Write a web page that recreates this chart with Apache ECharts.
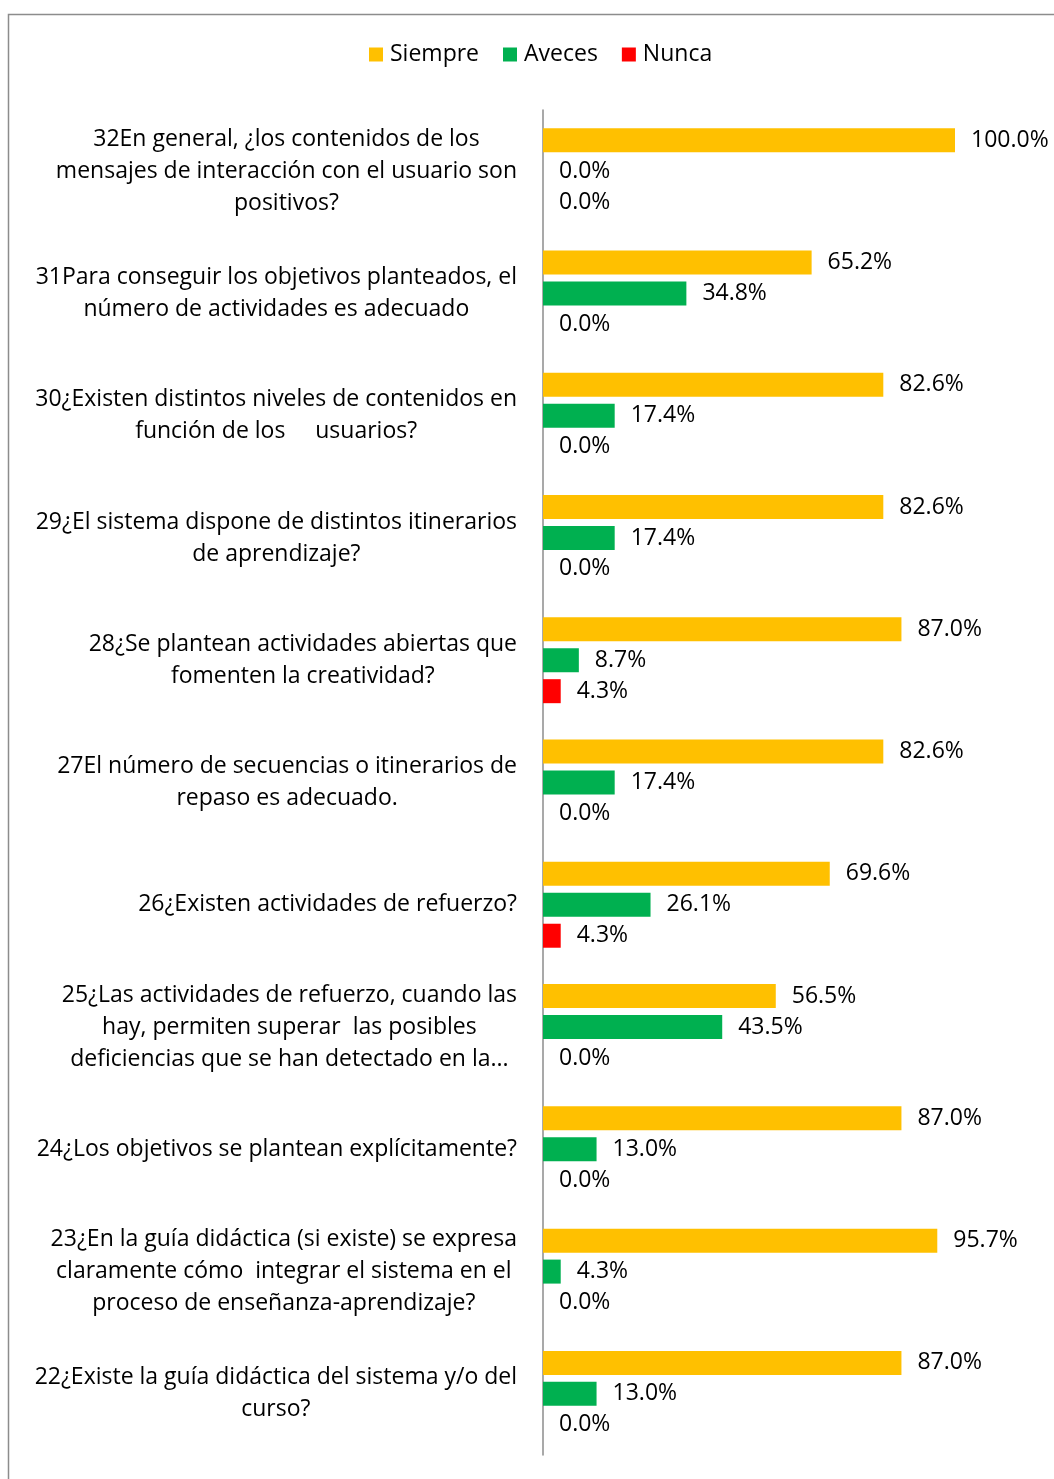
<!DOCTYPE html>
<html>
<head>
<meta charset="utf-8">
<script src="https://cdn.jsdelivr.net/npm/echarts@6/dist/echarts.min.js"></script>
<style>
html,body{margin:0;padding:0;background:#fff;}
#c{width:1054px;height:1479px;}
</style>
</head>
<body>
<div id="c"></div>
<script>
var categories = [
  "32En general, ¿los contenidos de los\nmensajes de interacción con el usuario son\npositivos?",
  "31Para conseguir los objetivos planteados, el\nnúmero de actividades es adecuado",
  "30¿Existen distintos niveles de contenidos en\nfunción de los     usuarios?",
  "29¿El sistema dispone de distintos itinerarios\nde aprendizaje?",
  "28¿Se plantean actividades abiertas que\nfomenten la creatividad?",
  "27El número de secuencias o itinerarios de\nrepaso es adecuado.",
  "26¿Existen actividades de refuerzo?",
  "25¿Las actividades de refuerzo, cuando las\nhay, permiten superar  las posibles\ndeficiencias que se han detectado en la...",
  "24¿Los objetivos se plantean explícitamente?",
  "23¿En la guía didáctica (si existe) se expresa\nclaramente cómo  integrar el sistema en el\nproceso de enseñanza-aprendizaje?",
  "22¿Existe la guía didáctica del sistema y/o del\ncurso?"
];
var siempre = [100.0, 65.2, 82.6, 82.6, 87.0, 82.6, 69.6, 56.5, 87.0, 95.7, 87.0];
var aveces  = [0.0, 34.8, 17.4, 17.4, 8.7, 17.4, 26.1, 43.5, 13.0, 4.3, 13.0];
var nunca   = [0.0, 0.0, 0.0, 0.0, 4.3, 0.0, 4.3, 0.0, 0.0, 0.0, 0.0];
var seriesNames = ["Siempre", "Aveces", "Nunca"];
var colors = ["#FFC000", "#00B050", "#FF0000"];

var FONT = "Open Sans";
var FS = 23;
var chart = echarts.init(document.getElementById('c'), null, {renderer: 'canvas'});
function mkSeries(name, data, color) {
  return {
    name: name, type: 'bar', data: data,
    barWidth: 24, barGap: '29%',
    itemStyle: {color: color},
    label: {
      show: true, position: 'right', distance: 16,
      fontFamily: FONT, fontSize: FS, color: '#000',
      formatter: function (p) { return p.value.toFixed(1) + '%'; }
    }
  };
}
chart.setOption({
  animation: false,
  textStyle: {fontFamily: FONT},
  graphic: [{
    type: 'rect', shape: {x: 8.5, y: 14.5, width: 1100, height: 1500},
    style: {fill: 'none', stroke: '#8c8c8c', lineWidth: 1.5}, silent: true, z: -10
  }],
  legend: {
    top: 38, left: 364, itemWidth: 14, itemHeight: 14, itemGap: 24,
    icon: 'rect',
    textStyle: {fontFamily: FONT, fontSize: FS, color: '#000', padding: [0,0,0,2]},
    data: seriesNames
  },
  grid: {left: 543, right: 99, top: 110, bottom: 24, containLabel: false},
  xAxis: {
    type: 'value', min: 0, max: 100, show: false
  },
  yAxis: {
    type: 'category', inverse: true, data: categories,
    axisLine: {show: true, lineStyle: {color: '#8c8c8c', width: 1.5}},
    axisTick: {show: false},
    axisLabel: {
      margin: 26, align: 'right', interval: 0,
      formatter: function (v) {
        return v.split('\n').map(function (s) { return '{c|' + s + '}'; }).join('\n');
      },
      rich: {c: {align: 'center', fontFamily: FONT, fontSize: FS, color: '#000', lineHeight: 32}}
    }
  },
  series: [
    mkSeries(seriesNames[0], siempre, colors[0]),
    mkSeries(seriesNames[1], aveces, colors[1]),
    mkSeries(seriesNames[2], nunca, colors[2])
  ]
});
</script>
</body>
</html>
